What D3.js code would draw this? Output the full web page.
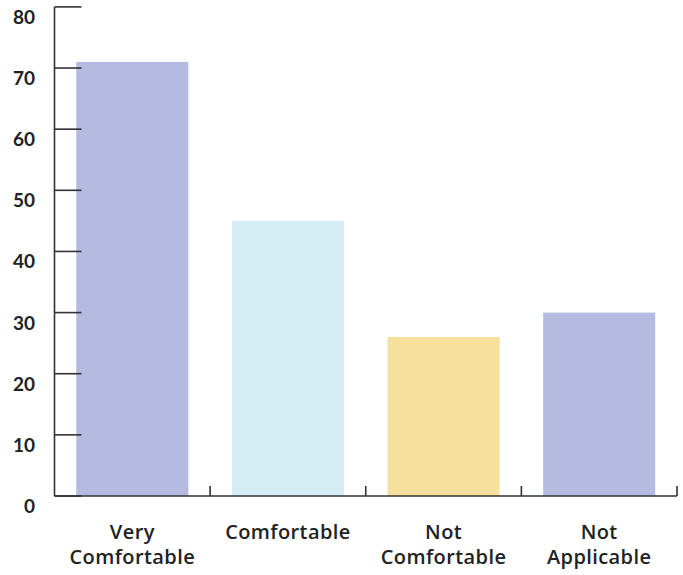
<!DOCTYPE html>
<html><head><meta charset="utf-8">
<script src="https://cdn.jsdelivr.net/npm/d3@7"></script>
<style>body{margin:0;background:#fff;} text{font-family:Lato,"Open Sans",sans-serif;}</style>
</head><body>
<svg id="c" width="683" height="575"></svg>
<script>
const categories = [["Very","Comfortable"],["Comfortable"],["Not","Comfortable"],["Not","Applicable"]];
const values = [71, 45, 26, 30];
const colors = ["#b4bae0", "#d5edf4", "#f7df9e", "#b4bae0"];
const yTicks = [0,10,20,30,40,50,60,70,80];

const svg = d3.select("#c");
const x0 = 54.5, x1 = 677, yTop = 6.9, yBot = 496;
const keys = categories.map((c,i)=>i);
const x = d3.scaleBand().domain(keys).range([x0,x1]).paddingInner(0.28).paddingOuter(0.14);
const y = d3.scaleLinear().domain([0,80]).range([yBot,yTop]);

svg.selectAll("rect.bar").data(values).enter().append("rect")
  .attr("x",(d,i)=>x(i)).attr("width",x.bandwidth())
  .attr("y",d=>y(d)).attr("height",d=>yBot-y(d))
  .attr("fill",(d,i)=>colors[i]);

const axisColor="#333";
// y axis
svg.append("line").attr("x1",x0).attr("x2",x0).attr("y1",yTop).attr("y2",yBot).attr("stroke",axisColor).attr("stroke-width",1.6);
svg.selectAll("line.yt").data(yTicks).enter().append("line")
  .attr("x1",x0).attr("x2",x0+27).attr("y1",d=>y(d)).attr("y2",d=>y(d)).attr("stroke",axisColor).attr("stroke-width",1.6);
svg.selectAll("text.yl").data(yTicks).enter().append("text")
  .attr("x",35).attr("y",d=>y(d)+17).attr("text-anchor","end")
  .attr("font-size",19).attr("font-weight",700).attr("fill","#222").text(d=>d);
// x axis
svg.append("line").attr("x1",x0).attr("x2",x1).attr("y1",yBot).attr("y2",yBot).attr("stroke",axisColor).attr("stroke-width",1.6);
const step = x.step();
const bounds = d3.range(1,categories.length+1).map(i=>x0+i*step);
svg.selectAll("line.xt").data(bounds).enter().append("line")
  .attr("x1",d=>d).attr("x2",d=>d).attr("y1",yBot).attr("y2",yBot-10).attr("stroke",axisColor).attr("stroke-width",1.6);
const lab = svg.selectAll("text.xl").data(categories).enter().append("text")
  .attr("text-anchor","middle").attr("font-size",20).attr("font-weight",600)
  .attr("letter-spacing",0.4)
  .style("font-family","'Open Sans',Lato,sans-serif").attr("fill","#222");
lab.each(function(lines,i){
  const t=d3.select(this);
  lines.forEach((l,j)=>t.append("tspan").attr("x",x(i)+x.bandwidth()/2).attr("y",539+j*25).text(l));
});
</script>
</body></html>
